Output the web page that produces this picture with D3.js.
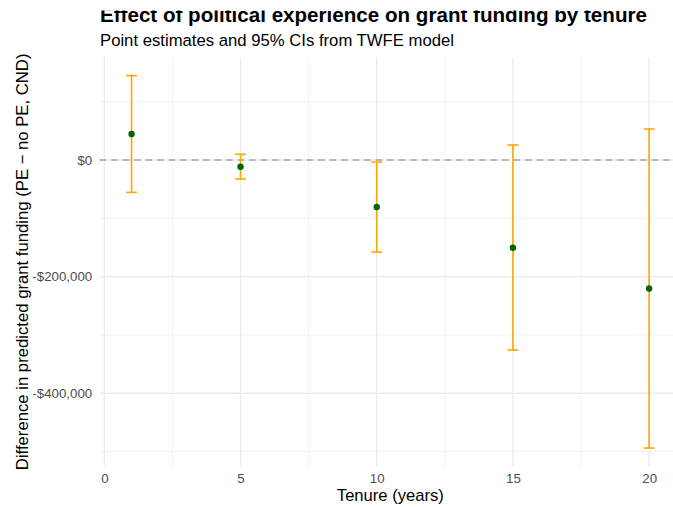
<!DOCTYPE html>
<html lang="en">
<head>
<meta charset="UTF-8">
<title>Effect of political experience on grant funding by tenure</title>
<script src="https://d3js.org/d3.v7.min.js"></script>
<style>
    body { margin: 0; background: #fff; }
    svg { display: block; font-family: 'Liberation Sans', Arial, sans-serif; }
    .tick text { fill: #4d4d4d; font-size: 13.3px; }
</style>
</head>
<body>
<div id="chart"></div>
<script>
    // values
    const tenure   = [1, 5, 10, 15, 20];
    const estimate = [44600, -11500, -80700, -150500, -220300];
    const ciLow    = [-55500, -32600, -158000, -326000, -494000];
    const ciHigh   = [144700, 9800, -3400, 25700, 53200];

    const xMajor = [0, 5, 10, 15, 20];
    const xMinor = [2.5, 7.5, 12.5, 17.5];
    const yMajor = [0, -200000, -400000];
    const yMinor = [100000, -100000, -300000, -500000];

    const width = 673, height = 507;
    const panel = { left: 99.7, right: 681, top: 57, bottom: 466.7 };
    const capHalf = 0.2; // errorbar cap half-width in years

    const rows = tenure.map((t, i) => ({ t, est: estimate[i], lo: ciLow[i], hi: ciHigh[i] }));

    // ggplot style 5% expansion
    function expand(lo, hi) {
        const pad = (hi - lo) * 0.05;
        return [lo - pad, hi + pad];
    }

    const x = d3.scaleLinear()
        .domain(expand(d3.min(tenure) - capHalf, d3.max(tenure) + capHalf))
        .range([panel.left, panel.right]);

    const y = d3.scaleLinear()
        .domain(expand(d3.min(ciLow), d3.max(ciHigh)))
        .range([panel.bottom, panel.top]);

    const svg = d3.select("#chart").append("svg")
        .attr("width", width)
        .attr("height", height);

    const grid = svg.append("g");

    // minor grid
    grid.selectAll(".ymin").data(yMinor).enter().append("line")
        .attr("x1", panel.left).attr("x2", panel.right)
        .attr("y1", d => y(d)).attr("y2", d => y(d))
        .attr("stroke", "#f2f2f2").attr("stroke-width", 1);
    grid.selectAll(".xmin").data(xMinor).enter().append("line")
        .attr("y1", panel.top).attr("y2", panel.bottom)
        .attr("x1", d => x(d)).attr("x2", d => x(d))
        .attr("stroke", "#f2f2f2").attr("stroke-width", 1);

    // major grid
    grid.selectAll(".ymaj").data(yMajor).enter().append("line")
        .attr("x1", panel.left).attr("x2", panel.right)
        .attr("y1", d => y(d)).attr("y2", d => y(d))
        .attr("stroke", "#ebebeb").attr("stroke-width", 1.3);
    grid.selectAll(".xmaj").data(xMajor).enter().append("line")
        .attr("y1", panel.top).attr("y2", panel.bottom)
        .attr("x1", d => x(d)).attr("x2", d => x(d))
        .attr("stroke", "#ebebeb").attr("stroke-width", 1.3);

    // zero reference line
    svg.append("line")
        .attr("x1", panel.left).attr("x2", panel.right)
        .attr("y1", y(0)).attr("y2", y(0))
        .attr("stroke", "#7f7f7f")
        .attr("stroke-width", 1.2)
        .attr("stroke-dasharray", "6.5,5");

    // axes
    const fmtMoney = d => (d < 0 ? "-" : "") + "$" + d3.format(",")(Math.abs(d));

    const yAxis = svg.append("g")
        .attr("transform", `translate(${panel.left},0)`)
        .call(d3.axisLeft(y).tickValues(yMajor).tickFormat(fmtMoney).tickSize(0).tickPadding(7.5));
    yAxis.select(".domain").remove();

    const xAxis = svg.append("g")
        .attr("transform", `translate(0,${panel.bottom})`)
        .call(d3.axisBottom(x).tickValues(xMajor).tickFormat(d3.format("d")).tickSize(0).tickPadding(7));
    xAxis.select(".domain").remove();

    // error bars
    const bars = svg.append("g")
        .attr("stroke", "#ffa500")
        .attr("stroke-width", 1.6)
        .attr("fill", "none");

    bars.selectAll(".stem").data(rows).enter().append("line")
        .attr("x1", d => x(d.t)).attr("x2", d => x(d.t))
        .attr("y1", d => y(d.lo)).attr("y2", d => y(d.hi));
    bars.selectAll(".capHi").data(rows).enter().append("line")
        .attr("x1", d => x(d.t - capHalf)).attr("x2", d => x(d.t + capHalf))
        .attr("y1", d => y(d.hi)).attr("y2", d => y(d.hi));
    bars.selectAll(".capLo").data(rows).enter().append("line")
        .attr("x1", d => x(d.t - capHalf)).attr("x2", d => x(d.t + capHalf))
        .attr("y1", d => y(d.lo)).attr("y2", d => y(d.lo));

    // point estimates
    svg.append("g").selectAll("circle").data(rows).enter().append("circle")
        .attr("cx", d => x(d.t))
        .attr("cy", d => y(d.est))
        .attr("r", 3.2)
        .attr("fill", "#006400");

    // titles
    svg.append("text")
        .attr("x", 100).attr("y", 21.5)
        .attr("font-size", 20.6).attr("font-weight", "bold")
        .text("Effect of political experience on grant funding by tenure");

    // the reference picture is cut off just above the title's x-height
    svg.append("rect")
        .attr("x", 0).attr("y", 0)
        .attr("width", width).attr("height", 10.5)
        .attr("fill", "#fff");

    svg.append("text")
        .attr("x", 100).attr("y", 46)
        .attr("font-size", 16.7)
        .text("Point estimates and 95% CIs from TWFE model");

    svg.append("text")
        .attr("x", (panel.left + panel.right) / 2).attr("y", 501)
        .attr("text-anchor", "middle")
        .attr("font-size", 16.6)
        .text("Tenure (years)");

    svg.append("text")
        .attr("transform", `translate(28,${(panel.top + panel.bottom) / 2}) rotate(-90)`)
        .attr("text-anchor", "middle")
        .attr("font-size", 16.7)
        .text("Difference in predicted grant funding (PE \u2212 no PE, CND)");
</script>
</body>
</html>
